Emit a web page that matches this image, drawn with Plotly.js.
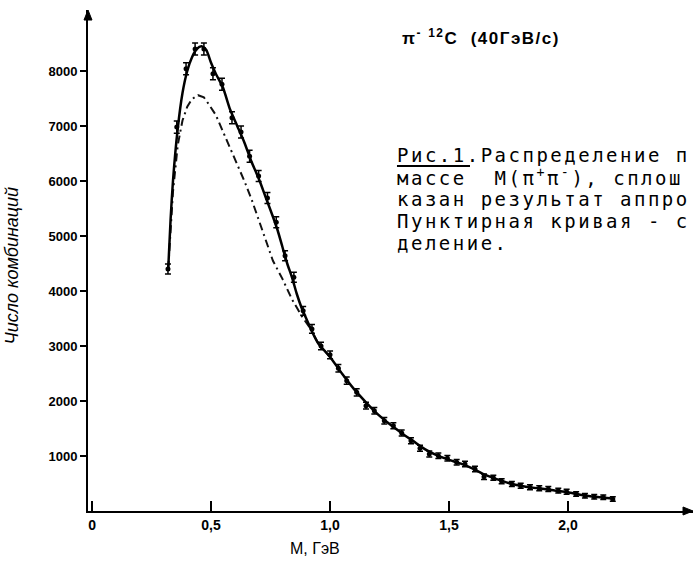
<!DOCTYPE html>
<html>
<head>
<meta charset="utf-8">
<script src="https://cdn.plot.ly/plotly-3.0.1.min.js"></script>
<style>html,body{margin:0;padding:0;background:#fff;}#chart{width:693px;height:561px;}</style>
</head>
<body>
<div id="chart"></div>
<script>
// Measured points: invariant mass M (GeV) and number of combinations
const massM = [0.319,0.356,0.395,0.433,0.470,0.508,0.546,0.588,0.626,0.662,0.700,0.737,0.774,0.811,0.848,0.887,0.924,0.962,1.000,1.035,1.070,1.112,1.151,1.186,1.228,1.266,1.301,1.340,1.378,1.417,1.455,1.493,1.532,1.567,1.609,1.647,1.686,1.721,1.764,1.801,1.840,1.879,1.917,1.959,1.994,2.034,2.071,2.110,2.148,2.188];
const counts = [4400,6980,8040,8400,8400,7950,7760,7150,6890,6450,6090,5690,5250,4640,4250,3640,3310,3000,2840,2595,2370,2158,1915,1824,1642,1551,1418,1278,1140,1036,1005,958,885,855,764,624,604,540,490,460,430,412,400,370,351,309,278,260,249,218];
const countErr = [90,110,110,110,110,110,110,110,110,110,100,100,100,90,90,80,80,70,70,70,65,65,60,60,60,55,55,55,55,55,50,50,50,50,50,50,45,45,45,45,45,45,45,45,45,40,40,40,40,40];

// Solid curve: fit result
const fitM = [0.32,0.33,0.34,0.36,0.38,0.40,0.42,0.44,0.46,0.48,0.50,0.52,0.55,0.58,0.61,0.64,0.67,0.70,0.73,0.76,0.78,0.80,0.82,0.84,0.86,0.88,0.90,0.92,0.95,1.00,1.05,1.10,1.15,1.20,1.25,1.30,1.35,1.40,1.45,1.50,1.55,1.60,1.65,1.70,1.75,1.80,1.85,1.90,1.95,2.00,2.05,2.10,2.15,2.19];
const fitN = [4400,5300,6000,6950,7600,8000,8250,8400,8450,8380,8150,7950,7700,7300,7000,6700,6350,6050,5700,5350,5100,4800,4500,4250,3950,3700,3500,3300,3050,2800,2500,2220,1980,1760,1580,1420,1270,1120,1010,930,860,770,660,580,510,460,425,400,370,340,295,265,245,220];

// Dash-dot curve: background distribution
const bgM = [0.32,0.34,0.36,0.38,0.40,0.42,0.445,0.47,0.49,0.52,0.55,0.58,0.61,0.64,0.67,0.70,0.73,0.76,0.80,0.84,0.88,0.92,0.95,1.00];
const bgN = [4400,5800,6650,7100,7350,7490,7560,7520,7400,7200,6900,6600,6320,6000,5670,5300,4900,4550,4220,3850,3550,3300,3050,2800];

const yTickVals = [1000,2000,3000,4000,5000,6000,7000,8000];
const yTickText = ['1000','2000','3000','4000','5000','6000','7000','8000'];
const xTickVals = [0,0.5,1.0,1.5,2.0];
const xTickText = ['0','0,5','1,0','1,5','2,0'];

const reactionLabel = 'π<sup>-</sup> <sup>12</sup>C  (40ГэВ/с)';
const captionLines = ['Рис.1.Распределение п','массе  M(π<sup>+</sup>π<sup>-</sup>), сплош','казан результат аппро','Пунктирная кривая - с','деление.'];
const xTitle = 'M, ГэВ';
const yTitle = 'Число комбинаций';

const traces = [
  {x: bgM, y: bgN, mode: 'lines', line: {color: '#111', width: 2, dash: '8px,4px,2px,4px'}, hoverinfo: 'skip'},
  {x: fitM, y: fitN, mode: 'lines', line: {color: '#000', width: 2.5, shape: 'spline', smoothing: 0.6}, hoverinfo: 'skip'},
  {x: massM, y: counts, mode: 'markers', marker: {color: '#000', size: 5},
   error_y: {type: 'data', array: countErr, visible: true, color: '#000', thickness: 1.5, width: 3}}
];

const capY = [0.7106,0.6667,0.6228,0.5788,0.5349];
const annotations = [
  {xref: 'paper', yref: 'paper', x: 0.516, y: 0.946, xanchor: 'left', yanchor: 'middle', showarrow: false,
   text: '<span style="letter-spacing:1.5px">' + reactionLabel + '</span>', font: {family: 'Liberation Sans', size: 17, color: '#000', weight: 'bold'}},
  {xref: 'paper', yref: 'paper', x: 0.375, y: -0.074, xanchor: 'center', yanchor: 'middle', showarrow: false,
   text: xTitle, font: {family: 'Liberation Sans', size: 16, color: '#000'}},
  {xref: 'paper', yref: 'paper', x: -0.125, y: 0.491, xanchor: 'center', yanchor: 'middle', showarrow: false, textangle: -90,
   text: yTitle, font: {family: 'Liberation Sans', size: 18, color: '#000', style: 'italic'}}
];
captionLines.forEach(function (t, i) {
  annotations.push({xref: 'paper', yref: 'paper', x: 0.5074, y: capY[i], xanchor: 'left', yanchor: 'middle', showarrow: false,
    text: '<span style="letter-spacing:2.5px">' + t + '</span>', font: {family: 'DejaVu Sans Mono', size: 19, color: '#000'}});
});

const layout = {
  width: 693, height: 561,
  margin: {l: 88, r: 0, t: 10, b: 50},
  paper_bgcolor: '#fff', plot_bgcolor: '#fff',
  showlegend: false,
  xaxis: {range: [-0.017, 2.525], showgrid: false, zeroline: false, showline: true, linecolor: '#000', linewidth: 2,
    tickvals: xTickVals, ticktext: xTickText, ticks: 'inside', ticklen: 10, tickwidth: 2, tickcolor: '#000',
    tickfont: {family: 'Liberation Sans', size: 14, color: '#000', weight: 'bold'}},
  yaxis: {range: [0, 9109], showgrid: false, zeroline: false, showline: true, linecolor: '#000', linewidth: 2,
    tickvals: yTickVals, ticktext: yTickText, ticks: 'outside', ticklen: 6, tickwidth: 2, tickcolor: '#000',
    tickfont: {family: 'Liberation Sans', size: 13, color: '#000', weight: 'bold'}},
  annotations: annotations,
  shapes: [
    {type: 'line', xref: 'paper', yref: 'paper', x0: 0.5107, x1: 0.6314, y0: 0.6886, y1: 0.6886, line: {color: '#000', width: 2}},
    {type: 'path', xref: 'paper', yref: 'paper', path: 'M 1,0 L 0.9835,0.008 L 0.9835,-0.008 Z', fillcolor: '#000', line: {color: '#000', width: 1}},
    {type: 'path', xref: 'paper', yref: 'paper', path: 'M 0,1 L -0.0066,0.98 L 0.0066,0.98 Z', fillcolor: '#000', line: {color: '#000', width: 1}}
  ]
};

Plotly.newPlot('chart', traces, layout, {displayModeBar: false, staticPlot: true});
</script>
</body>
</html>
